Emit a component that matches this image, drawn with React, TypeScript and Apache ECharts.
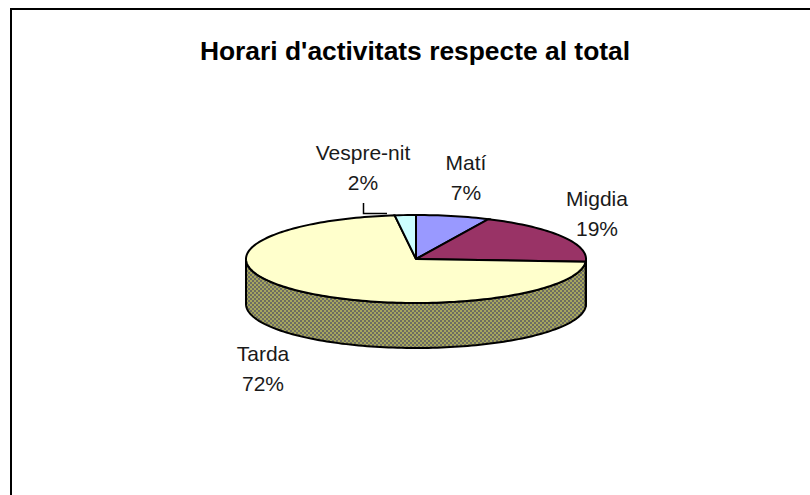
import React, { useEffect, useRef } from "react";
import * as echarts from "echarts";

const titleText = "Horari d'activitats respecte al total";
const categories = ["Matí", "Migdia", "Tarda", "Vespre-nit"];
const shares = [7, 19, 72, 2];
const sliceColors = ["#9999FF", "#993366", "#FFFFCC", "#CCFFFF"];

const CX = 416, CY = 259, RX = 170, RY = 44, DEPTH = 45;
const labelPlaces = [
  { x: 466, y: 177 },
  { x: 597, y: 213 },
  { x: 263, y: 368 },
  { x: 363, y: 167 },
];

function ditherFill(): any {
  const c = document.createElement("canvas");
  c.width = 4;
  c.height = 4;
  const g = c.getContext("2d")!;
  g.fillStyle = "#A6A65C";
  g.fillRect(0, 0, 4, 4);
  g.fillStyle = "#6C6C64";
  g.fillRect(0, 0, 2, 2);
  g.fillRect(2, 2, 2, 2);
  return { image: c.toDataURL(), repeat: "repeat" };
}

function arcPoints(from: number, to: number, dy: number): number[][] {
  const pts: number[][] = [];
  const n = Math.max(2, Math.ceil(Math.abs(to - from) / 1.5));
  for (let i = 0; i <= n; i++) {
    const a = ((from + ((to - from) * i) / n) * Math.PI) / 180;
    pts.push([CX + RX * Math.cos(a), CY - RY * Math.sin(a) + dy]);
  }
  return pts;
}

export default function App() {
  const ref = useRef<HTMLDivElement>(null);
  useEffect(() => {
    const chart = echarts.init(ref.current!, null, { renderer: "svg" });
    const total = shares.reduce((a, b) => a + b, 0);
    const side = ditherFill();
    const seriesData = shares.map((v, i) => ({ value: v, name: categories[i] }));

    const renderItem = (params: any, api: any) => {
      const i = params.dataIndex;
      const before = shares.slice(0, i).reduce((a, b) => a + b, 0);
      const start = 90 - (before / total) * 360;
      const end = start - (api.value(0) / total) * 360;
      const children: any[] = [];
      // visible wall: the part of the rim lying on the lower half of the ellipse
      const ranges = [[-180, 0], [-540, -360]];
      for (const [lo, hi] of ranges) {
        const a = Math.min(start, hi);
        const b = Math.max(end, lo);
        if (a > b) {
          const outer = arcPoints(a, b, 0);
          const lower = arcPoints(b, a, DEPTH);
          children.push({
            type: "polygon",
            z2: 1,
            shape: { points: outer.concat(lower) },
            style: { fill: side, stroke: "#000", lineWidth: 2 },
          });
        }
      }
      children.push({
        type: "polygon",
        z2: 2,
        shape: { points: [[CX, CY], ...arcPoints(start, end, 0)] },
        style: { fill: sliceColors[i], stroke: "#000", lineWidth: 2, lineJoin: "miter" },
      });
      children.push({
        type: "text",
        z2: 3,
        x: labelPlaces[i].x,
        y: labelPlaces[i].y,
        style: {
          text: `${categories[i]}\n${api.value(0)}%`,
          fill: "#1a1a1a",
          font: "21px 'Liberation Sans', Arial, sans-serif",
          lineHeight: 30,
          align: "center",
          verticalAlign: "middle",
        },
      });
      return { type: "group", children };
    };

    chart.setOption({
      animation: false,
      backgroundColor: "#fff",
      title: {
        text: titleText,
        left: 410,
        top: 33,
        textAlign: "center",
        textStyle: {
          color: "#000",
          fontFamily: "'Liberation Sans', Arial, sans-serif",
          fontWeight: "bold",
          fontSize: 26.4,
        },
      },
      series: [
        {
          type: "custom",
          coordinateSystem: "none",
          renderItem,
          data: seriesData,
          encode: { value: 0 },
        },
      ],
      graphic: [
        { type: "line", silent: true, shape: { x1: 11, y1: 9, x2: 11, y2: 495 }, style: { stroke: "#000", lineWidth: 2 } },
        { type: "line", silent: true, shape: { x1: 10, y1: 9, x2: 810, y2: 9 }, style: { stroke: "#000", lineWidth: 2 } },
        { type: "polyline", silent: true, shape: { points: [[363.5, 203], [363.5, 213.5], [387, 213.5]] }, style: { stroke: "#000", lineWidth: 1.5, fill: "none" } },
      ],
    });
    return () => chart.dispose();
  }, []);
  return (
    <div
      ref={ref}
      style={{ position: "absolute", left: 0, top: 0, width: 810, height: 495 }}
    />
  );
}
